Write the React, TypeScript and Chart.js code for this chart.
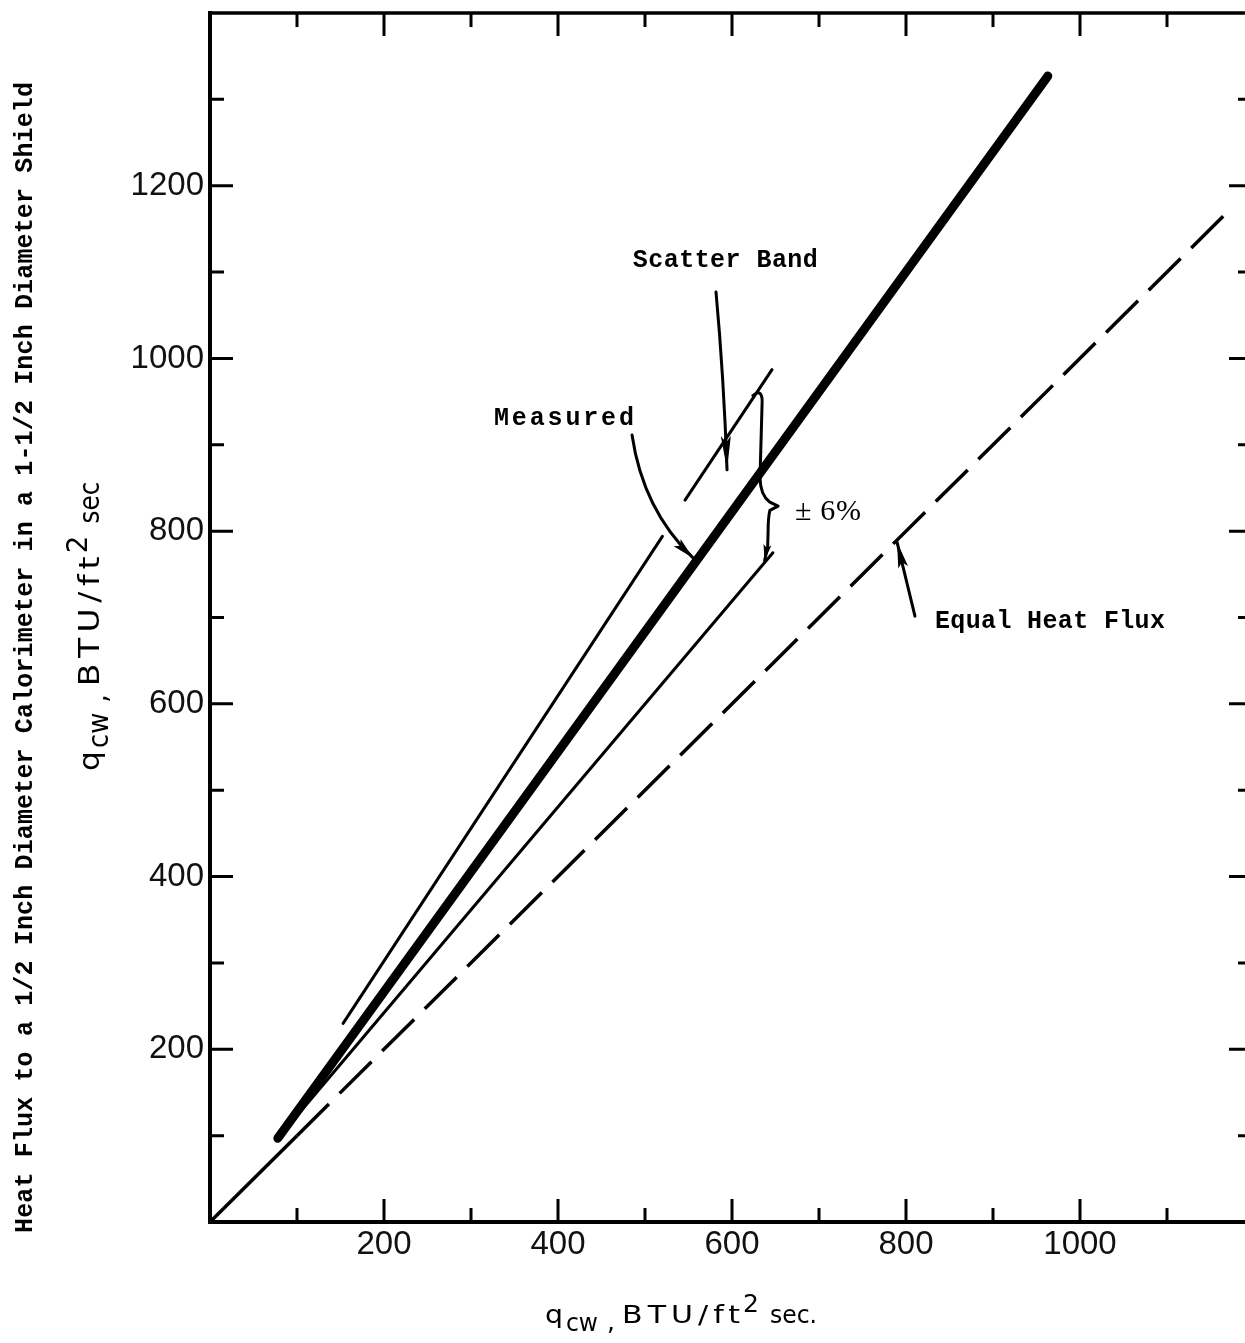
import React, { useEffect, useRef } from 'react';
import { Chart, registerables } from 'chart.js';

Chart.register(...registerables);

// ---- data ----
const xTickValues = [0, 100, 200, 300, 400, 500, 600, 700, 800, 900, 1000, 1100, 1200];
const yTickValues = [0, 100, 200, 300, 400, 500, 600, 700, 800, 900, 1000, 1100, 1200, 1300, 1400];
const xLabelValues = [200, 400, 600, 800, 1000];
const yLabelValues = [200, 400, 600, 800, 1000, 1200];

const measuredX = [78, 963];
const measuredY = [97, 1327];

const bandUpperAX = [153, 520];
const bandUpperAY = [230, 794];
const bandUpperBX = [546, 646];
const bandUpperBY = [836, 987];

const bandLowerX = [78, 647];
const bandLowerY = [97, 775];

const equalX = [0, 100, 1170];
const equalY = [0, 100, 1170];

const yTitleLine1 = 'Heat Flux to a 1/2 Inch Diameter Calorimeter in a 1-1/2 Inch Diameter Shield';

const pts = (xs: number[], ys: number[]) => xs.map((x, i) => ({ x, y: ys[i] }));

function fitText(
  ctx: CanvasRenderingContext2D,
  text: string,
  x: number,
  y: number,
  width?: number,
  maxStretch = 1
) {
  (ctx as any).letterSpacing = '0px';
  let sx = 1;
  let ls = 0;
  if (width) {
    const n = Array.from(text).length;
    const w = ctx.measureText(text).width;
    sx = Math.min(Math.max(width / w, 0.85), maxStretch);
    const rest = width - w * sx;
    ls = n > 1 ? rest / (n - 1) / sx : 0;
  }
  ctx.save();
  ctx.translate(x, y);
  ctx.scale(sx, 1);
  (ctx as any).letterSpacing = ls + 'px';
  ctx.fillText(text, 0, 0);
  ctx.restore();
  (ctx as any).letterSpacing = '0px';
}

function drawQcw(ctx: CanvasRenderingContext2D, s: number, period: boolean) {
  const parts = [
    { t: 'q', dx: 0, dy: 0, w: 18 },
    { t: 'cw', dx: 21, dy: 8, w: 32 },
    { t: ',', dx: 62, dy: 7, w: 0 },
    { t: 'BTU/ft', dx: 77, dy: 0, w: 118 },
    { t: '2', dx: 198, dy: -11, w: 0 },
    { t: period ? 'sec.' : 'sec', dx: 225, dy: 0, w: period ? 47 : 38 },
  ];
  ctx.textBaseline = 'alphabetic';
  ctx.textAlign = 'left';
  for (const p of parts) {
    ctx.font = `${25 * s}px 'DejaVu Sans', Verdana, sans-serif`;
    fitText(ctx, p.t, p.dx * s, p.dy * s, p.w ? p.w * s : undefined, 1.2);
  }
}

function arrowHead(ctx: CanvasRenderingContext2D, tx: number, ty: number, fx: number, fy: number, len: number, half: number) {
  const a = Math.atan2(ty - fy, tx - fx);
  const c = Math.cos(a), s = Math.sin(a);
  ctx.beginPath();
  ctx.moveTo(tx, ty);
  ctx.lineTo(tx - len * c + half * s, ty - len * s - half * c);
  ctx.lineTo(tx - len * 0.8 * c, ty - len * 0.8 * s);
  ctx.lineTo(tx - len * c - half * s, ty - len * s + half * c);
  ctx.closePath();
  ctx.fill();
}

const framePlugin = {
  id: 'frameTicks',
  afterDraw(chart: any) {
    const { ctx, chartArea, scales } = chart;
    const { left, right, top, bottom } = chartArea;
    const X = (v: number) => scales.x.getPixelForValue(v);
    const Y = (v: number) => scales.y.getPixelForValue(v);
    ctx.save();
    ctx.strokeStyle = '#000';
    ctx.fillStyle = '#000';
    ctx.lineCap = 'butt';
    // frame
    ctx.lineWidth = 4;
    ctx.beginPath();
    ctx.moveTo(left, top - 2);
    ctx.lineTo(left, bottom);
    ctx.lineTo(right + 4, bottom);
    ctx.stroke();
    ctx.lineWidth = 3.5;
    ctx.beginPath();
    ctx.moveTo(left - 2, top);
    ctx.lineTo(right + 4, top);
    ctx.moveTo(right, top);
    ctx.lineTo(right, bottom);
    ctx.stroke();
    // inward ticks on all four sides, positioned by the scales
    ctx.lineWidth = 3;
    const xMax = scales.x.max, yMax = scales.y.max;
    for (const v of xTickValues) {
      if (v <= 0 || v >= xMax) continue;
      const len = v % 200 === 0 ? 23 : 14;
      const px = X(v);
      ctx.beginPath();
      ctx.moveTo(px, bottom);
      ctx.lineTo(px, bottom - len);
      ctx.moveTo(px, top);
      ctx.lineTo(px, top + len);
      ctx.stroke();
    }
    for (const v of yTickValues) {
      if (v <= 0 || v >= yMax) continue;
      const len = v % 200 === 0 ? 23 : 14;
      const py = Y(v);
      ctx.beginPath();
      ctx.moveTo(left, py);
      ctx.lineTo(left + len, py);
      ctx.moveTo(right, py);
      ctx.lineTo(right - len - 2, py);
      ctx.stroke();
    }

    // ---- annotations (placed in data units through the scales) ----
    ctx.lineWidth = 3;
    ctx.lineJoin = 'round';
    ctx.lineCap = 'round';
    ctx.textBaseline = 'alphabetic';
    ctx.textAlign = 'left';

    // Scatter Band label + arrow
    ctx.font = "bold 25px 'Liberation Mono', 'Courier New', monospace";
    fitText(ctx, 'Scatter Band', X(486), Y(1106), 185);
    {
      const sx = X(581.6), sy = Y(1077), cx = X(590.5), cy = Y(979), ex = X(594.3), ey = Y(871);
      ctx.beginPath();
      ctx.moveTo(sx, sy);
      ctx.quadraticCurveTo(cx, cy, ex, ey);
      ctx.stroke();
      arrowHead(ctx, ex, ey, cx, cy, 34, 5);
    }

    // Measured label + curved arrow
    fitText(ctx, 'Measured', X(326.4), Y(923), 140);
    {
      const sx = X(485.1), sy = Y(911.3), cx = X(497.7), cy = Y(824.5), ex = X(555.2), ey = Y(769);
      ctx.beginPath();
      ctx.moveTo(sx, sy);
      ctx.quadraticCurveTo(cx, cy, ex, ey);
      ctx.stroke();
      arrowHead(ctx, ex, ey, cx, cy, 22, 5);
    }

    // Equal Heat Flux label + arrow
    fitText(ctx, 'Equal Heat Flux', X(833.3), Y(688), 230);
    {
      const sx = X(810.3), sy = Y(701.6), ex = X(789.7), ey = Y(787.4);
      ctx.beginPath();
      ctx.moveTo(sx, sy);
      ctx.lineTo(ex, ey);
      ctx.stroke();
      arrowHead(ctx, ex, ey, sx, sy, 26, 5);
    }

    // +/- 6% brace
    {
      ctx.beginPath();
      ctx.moveTo(X(624), Y(957));
      ctx.quadraticCurveTo(X(636), Y(967), X(634.5), Y(945));
      ctx.lineTo(X(632.2), Y(862));
      ctx.quadraticCurveTo(X(632.5), Y(842), X(643), Y(834));
      ctx.lineTo(X(653), Y(829));
      ctx.lineTo(X(643.5), Y(824));
      ctx.quadraticCurveTo(X(641.5), Y(815), X(641.5), Y(800));
      ctx.lineTo(X(641), Y(782));
      ctx.lineTo(X(637.5), Y(766));
      ctx.stroke();
      arrowHead(ctx, X(637.5), Y(766), X(641), Y(786), 16, 4);
      ctx.font = "30px 'Liberation Serif', 'Times New Roman', serif";
      fitText(ctx, '\u00B1 6%', X(672.4), Y(813), 66);
    }

    // ---- axis titles ----
    // x title
    ctx.save();
    ctx.translate(545, 1323);
    drawQcw(ctx, 1, true);
    ctx.restore();
    // y title, line 2
    ctx.save();
    ctx.translate(99, 771);
    ctx.rotate(-Math.PI / 2);
    drawQcw(ctx, 1.1, false);
    ctx.restore();
    // y title, line 1
    ctx.save();
    ctx.translate(32, 1233);
    ctx.rotate(-Math.PI / 2);
    ctx.font = "bold 25px 'Liberation Mono', 'Courier New', monospace";
    fitText(ctx, yTitleLine1, 0, 0, 1151);
    ctx.restore();

    ctx.restore();
  },
};

export default function App() {
  const ref = useRef<HTMLCanvasElement>(null);
  useEffect(() => {
    const canvas = ref.current;
    if (!canvas) return;
    const zeroPad = (s: any) => {
      s.paddingLeft = 0;
      s.paddingRight = 0;
      s.paddingTop = 0;
      s.paddingBottom = 0;
    };
    const lineDs = (label: string, xs: number[], ys: number[], width: number, extra: any = {}) => ({
      label,
      data: pts(xs, ys),
      showLine: true,
      borderColor: '#000',
      backgroundColor: '#000',
      borderWidth: width,
      pointRadius: 0,
      pointHoverRadius: 0,
      fill: false,
      tension: 0,
      ...extra,
    });
    const tickFont = { family: "'Liberation Sans', Arial, sans-serif", size: 33 };
    const chart = new Chart(canvas, {
      type: 'scatter',
      data: {
        datasets: [
          lineDs('Equal Heat Flux', equalX, equalY, 3.5, {
            borderCapStyle: 'butt',
            segment: { borderDash: (c: any) => (c.p0DataIndex === 0 ? [] : [45, 15]) },
          }),
          lineDs('Scatter Band (upper)', bandUpperAX, bandUpperAY, 3, { borderCapStyle: 'round' }),
          lineDs('Scatter Band (upper, cont.)', bandUpperBX, bandUpperBY, 3, { borderCapStyle: 'round' }),
          lineDs('Scatter Band (lower)', bandLowerX, bandLowerY, 3, { borderCapStyle: 'round' }),
          lineDs('Measured', measuredX, measuredY, 9, { borderCapStyle: 'round' }),
        ],
      } as any,
      options: {
        animation: false,
        responsive: false,
        maintainAspectRatio: false,
        devicePixelRatio: 1,
        layout: { padding: { left: 0, top: 13, right: 8, bottom: 0 } },
        plugins: { legend: { display: false }, tooltip: { enabled: false } },
        events: [],
        scales: {
          x: {
            type: 'linear',
            position: 'bottom',
            min: 0,
            max: 1200,
            grid: { display: false, drawTicks: false },
            border: { display: false },
            afterBuildTicks: (s: any) => {
              s.ticks = xTickValues.map((v) => ({ value: v }));
            },
            ticks: {
              autoSkip: false,
              maxRotation: 0,
              minRotation: 0,
              padding: 3,
              color: '#111',
              font: tickFont,
              callback: (v: any) => (xLabelValues.includes(Number(v)) ? String(v) : null),
            },
            afterFit: (s: any) => {
              s.height = 121;
              zeroPad(s);
            },
          },
          y: {
            type: 'linear',
            position: 'left',
            min: 0,
            max: 1400,
            grid: { display: false, drawTicks: false },
            border: { display: false },
            afterBuildTicks: (s: any) => {
              s.ticks = yTickValues.map((v) => ({ value: v }));
            },
            ticks: {
              autoSkip: false,
              padding: 6,
              color: '#111',
              font: tickFont,
              callback: (v: any) => (yLabelValues.includes(Number(v)) ? String(v) : null),
            },
            afterFit: (s: any) => {
              s.width = 210;
              zeroPad(s);
            },
          },
        },
      } as any,
      plugins: [framePlugin],
    });
    return () => chart.destroy();
  }, []);
  return (
    <div
      style={{
        position: 'fixed',
        left: 0,
        top: 0,
        width: 1245,
        height: 1343,
        overflow: 'hidden',
        background: '#fff',
      }}
    >
      <canvas ref={ref} width={1262} height={1343} style={{ display: 'block', width: 1262, height: 1343 }} />
    </div>
  );
}
